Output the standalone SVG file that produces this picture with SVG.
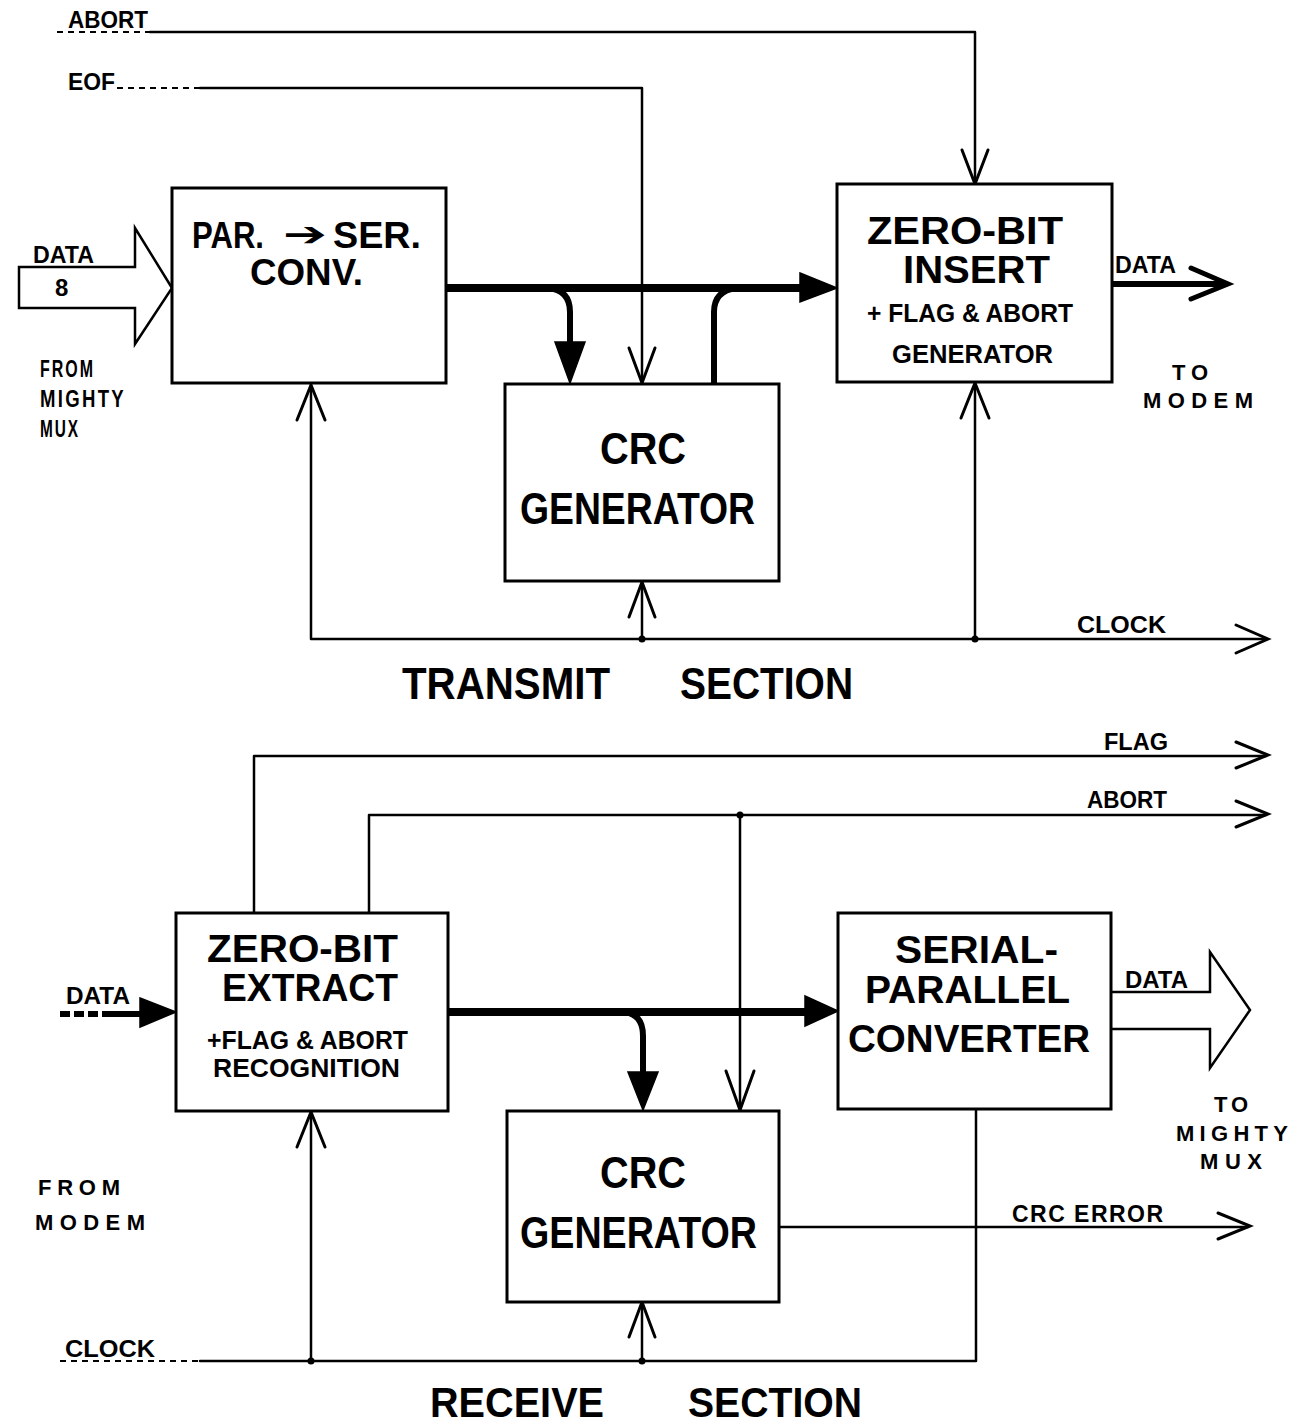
<svg xmlns="http://www.w3.org/2000/svg" width="1304" height="1426" viewBox="0 0 1304 1426">
<style>
.box{fill:#fff;stroke:#000;stroke-width:3}
.ln{fill:none;stroke:#000;stroke-width:2.5;stroke-linejoin:round;stroke-linecap:round}
.dash{fill:none;stroke:#000;stroke-width:2;stroke-dasharray:6 5}
.thick{fill:none;stroke:#000;stroke-width:8;stroke-linejoin:round}
.oh{fill:none;stroke:#000;stroke-width:3;stroke-linejoin:miter;stroke-linecap:round}
.fh{fill:#000;stroke:#000;stroke-width:1.5;stroke-linejoin:miter}
.dot{fill:#000}
.hollow{fill:#fff;stroke:#000;stroke-width:2.5;stroke-linejoin:miter}
text{font-family:"Liberation Sans",Arial,sans-serif;font-weight:bold;fill:#000}
.big{font-size:44px}
.mid{font-size:38px}
.sm{font-size:25px}
.lbl{font-size:23px}
.sp{font-size:22px}
</style>
<rect width="1304" height="1426" fill="#fff"/>

<g id="connectors">
  <!-- top: ABORT -->
  <path class="dash" d="M57,32 H150"/>
  <path class="ln" d="M150,32 H975 V184"/>
  <path class="oh" d="M962,150 L975,184 L988,150"/>
  <!-- EOF -->
  <path class="dash" d="M117,88 H200"/>
  <path class="ln" d="M200,88 H642 V383"/>
  <path class="oh" d="M629,348 L642,383 L655,348"/>
  <!-- DATA 8 hollow arrow -->
  <path class="hollow" d="M172,288 L135,228 V267 H19 V308 H135 V344 Z"/>
  <!-- main serial data -->
  <path class="thick" d="M446,288 H805"/>
  <polygon class="fh" points="800,273 837,288 800,302"/>
  <path class="thick" style="stroke-width:6" d="M548,288 Q570,290 570,312 V345"/>
  <polygon class="fh" points="555,342 585,342 570,383"/>
  <path class="thick" style="stroke-width:6" d="M714,383 V312 Q714,291 736,288"/>
  <!-- output data to modem -->
  <path class="thick" style="stroke-width:6" d="M1112,284 H1226"/>
  <path class="oh" style="stroke-width:5" d="M1191,268 L1228,284 L1191,299"/>
  <!-- transmit clock -->
  <path class="ln" d="M311,385 V639 H1266"/>
  <path class="oh" d="M1236,625 L1268,639 L1236,653"/>
  <path class="oh" d="M297,420 L311,385 L325,420"/>
  <path class="ln" d="M642,639 V582"/>
  <path class="oh" d="M629,617 L642,582 L655,617"/>
  <circle class="dot" cx="642" cy="639" r="3.5"/>
  <path class="ln" d="M975,639 V383"/>
  <path class="oh" d="M961,418 L975,383 L989,418"/>
  <circle class="dot" cx="975" cy="639" r="3.5"/>

  <!-- receive: FLAG -->
  <path class="ln" d="M254,913 V756 H1266"/>
  <path class="oh" d="M1236,742 L1268,755 L1236,768"/>
  <!-- ABORT -->
  <path class="ln" d="M369,913 V815 H1266"/>
  <path class="oh" d="M1236,801 L1268,814 L1236,827"/>
  <circle class="dot" cx="740" cy="815" r="3.5"/>
  <path class="ln" d="M740,815 V1110"/>
  <path class="oh" d="M726,1071 L740,1110 L754,1071"/>
  <!-- data in from modem -->
  <path class="dash" style="stroke-width:6;stroke-dasharray:10 4" d="M60,1014 H110"/>
  <path class="thick" style="stroke-width:6" d="M110,1014 H145"/>
  <polygon class="fh" points="140,998 176,1012 140,1027"/>
  <!-- main receive data -->
  <path class="thick" d="M448,1012 H808"/>
  <polygon class="fh" points="805,996 838,1011 805,1026"/>
  <path class="thick" style="stroke-width:6" d="M624,1012 Q643,1014 643,1036 V1075"/>
  <polygon class="fh" points="628,1072 658,1072 643,1110"/>
  <!-- output to mighty mux -->
  <path class="hollow" d="M1111,992 H1210 V952 L1250,1010 L1210,1068 V1029 H1111"/>
  <!-- CRC error -->
  <path class="ln" d="M779,1227 H1248"/>
  <path class="oh" d="M1218,1213 L1250,1226 L1218,1239"/>
  <!-- receive clock -->
  <path class="dash" d="M60,1361 H200"/>
  <path class="ln" d="M200,1361 H976 V1109"/>
  <circle class="dot" cx="311" cy="1361" r="3.5"/>
  <path class="ln" d="M311,1361 V1112"/>
  <path class="oh" d="M297,1147 L311,1112 L325,1147"/>
  <circle class="dot" cx="642" cy="1361" r="3.5"/>
  <path class="ln" d="M642,1361 V1302"/>
  <path class="oh" d="M629,1337 L642,1302 L655,1337"/>
</g>

<g id="par-ser-conv">
  <rect class="box" x="172" y="188" width="274" height="195"/>
  <text x="192" y="248" textLength="72" lengthAdjust="spacingAndGlyphs" style="font-size:36px">PAR.</text>
  <text x="283" y="246" textLength="44" lengthAdjust="spacingAndGlyphs" style="font-family:'DejaVu Sans',sans-serif;font-size:34px">➔</text>
  <text x="333" y="248" textLength="88" lengthAdjust="spacingAndGlyphs" style="font-size:36px">SER.</text>
  <text x="250" y="285" textLength="113" lengthAdjust="spacingAndGlyphs" style="font-size:36px">CONV.</text>
</g>

<g id="crc-generator-tx">
  <rect class="box" x="505" y="384" width="274" height="197"/>
  <text class="big" x="600" y="464" textLength="86" lengthAdjust="spacingAndGlyphs">CRC</text>
  <text class="big" x="520" y="524" textLength="235" lengthAdjust="spacingAndGlyphs">GENERATOR</text>
</g>

<g id="zero-bit-insert">
  <rect class="box" x="837" y="184" width="275" height="198"/>
  <text class="mid" x="867" y="244" textLength="196" lengthAdjust="spacingAndGlyphs">ZERO-BIT</text>
  <text class="mid" x="903" y="283" textLength="147" lengthAdjust="spacingAndGlyphs">INSERT</text>
  <text class="sm" x="867" y="322" textLength="206" lengthAdjust="spacingAndGlyphs">+ FLAG &amp; ABORT</text>
  <text class="sm" x="892" y="363" textLength="161" lengthAdjust="spacingAndGlyphs">GENERATOR</text>
</g>

<g id="zero-bit-extract">
  <rect class="box" x="176" y="913" width="272" height="198"/>
  <text class="mid" x="207" y="962" textLength="191" lengthAdjust="spacingAndGlyphs">ZERO-BIT</text>
  <text class="mid" x="222" y="1001" textLength="176" lengthAdjust="spacingAndGlyphs">EXTRACT</text>
  <text class="sm" x="207" y="1049" textLength="201" lengthAdjust="spacingAndGlyphs">+FLAG &amp; ABORT</text>
  <text class="sm" x="213" y="1077" textLength="187" lengthAdjust="spacingAndGlyphs">RECOGNITION</text>
</g>

<g id="serial-parallel-converter">
  <rect class="box" x="838" y="913" width="273" height="196"/>
  <text class="mid" x="895" y="963" textLength="163" lengthAdjust="spacingAndGlyphs">SERIAL-</text>
  <text class="mid" x="865" y="1003" textLength="205" lengthAdjust="spacingAndGlyphs">PARALLEL</text>
  <text class="mid" x="848" y="1052" textLength="242" lengthAdjust="spacingAndGlyphs">CONVERTER</text>
</g>

<g id="crc-generator-rx">
  <rect class="box" x="507" y="1111" width="272" height="191"/>
  <text class="big" x="600" y="1188" textLength="86" lengthAdjust="spacingAndGlyphs">CRC</text>
  <text class="big" x="520" y="1248" textLength="237" lengthAdjust="spacingAndGlyphs">GENERATOR</text>
</g>

<g id="labels">
  <text class="lbl" x="68" y="28" textLength="80" lengthAdjust="spacingAndGlyphs">ABORT</text>
  <text class="lbl" x="68" y="90" textLength="47" lengthAdjust="spacingAndGlyphs">EOF</text>
  <text class="lbl" x="33" y="263" textLength="61" lengthAdjust="spacingAndGlyphs">DATA</text>
  <text class="lbl" x="55" y="296" style="font-size:24px">8</text>
  <text x="40" y="377" textLength="55" lengthAdjust="spacingAndGlyphs" style="font-size:24px;letter-spacing:3px">FROM</text>
  <text x="40" y="407" textLength="86" lengthAdjust="spacingAndGlyphs" style="font-size:24px;letter-spacing:3px">MIGHTY</text>
  <text x="40" y="437" textLength="40" lengthAdjust="spacingAndGlyphs" style="font-size:24px;letter-spacing:3px">MUX</text>
  <text class="lbl" x="1115" y="273" textLength="61" lengthAdjust="spacingAndGlyphs">DATA</text>
  <text class="sp" x="1172" y="380" textLength="36" lengthAdjust="spacing">TO</text>
  <text class="sp" x="1143" y="408" textLength="110" lengthAdjust="spacing">MODEM</text>
  <text class="lbl" x="1077" y="633" textLength="89" lengthAdjust="spacingAndGlyphs">CLOCK</text>
  <text class="big" x="402" y="699" textLength="208" lengthAdjust="spacingAndGlyphs">TRANSMIT</text>
  <text class="big" x="680" y="699" textLength="173" lengthAdjust="spacingAndGlyphs">SECTION</text>

  <text class="lbl" x="1104" y="750" textLength="64" lengthAdjust="spacingAndGlyphs">FLAG</text>
  <text class="lbl" x="1087" y="808" textLength="80" lengthAdjust="spacingAndGlyphs">ABORT</text>
  <text class="lbl" x="66" y="1004" textLength="64" lengthAdjust="spacingAndGlyphs">DATA</text>
  <text class="lbl" x="1125" y="988" textLength="63" lengthAdjust="spacingAndGlyphs">DATA</text>
  <text class="sp" x="1214" y="1112" textLength="34" lengthAdjust="spacing">TO</text>
  <text class="sp" x="1176" y="1141" textLength="112" lengthAdjust="spacing">MIGHTY</text>
  <text class="sp" x="1200" y="1169" textLength="62" lengthAdjust="spacing">MUX</text>
  <text class="sp" x="38" y="1195" textLength="82" lengthAdjust="spacing">FROM</text>
  <text class="sp" x="35" y="1230" textLength="110" lengthAdjust="spacing">MODEM</text>
  <text class="lbl" x="1012" y="1222" textLength="151" lengthAdjust="spacing">CRC  ERROR</text>
  <text class="lbl" x="65" y="1357" textLength="90" lengthAdjust="spacingAndGlyphs">CLOCK</text>
  <text x="430" y="1417" textLength="174" lengthAdjust="spacingAndGlyphs" style="font-size:42px">RECEIVE</text>
  <text x="688" y="1417" textLength="174" lengthAdjust="spacingAndGlyphs" style="font-size:42px">SECTION</text>
</g>
</svg>
